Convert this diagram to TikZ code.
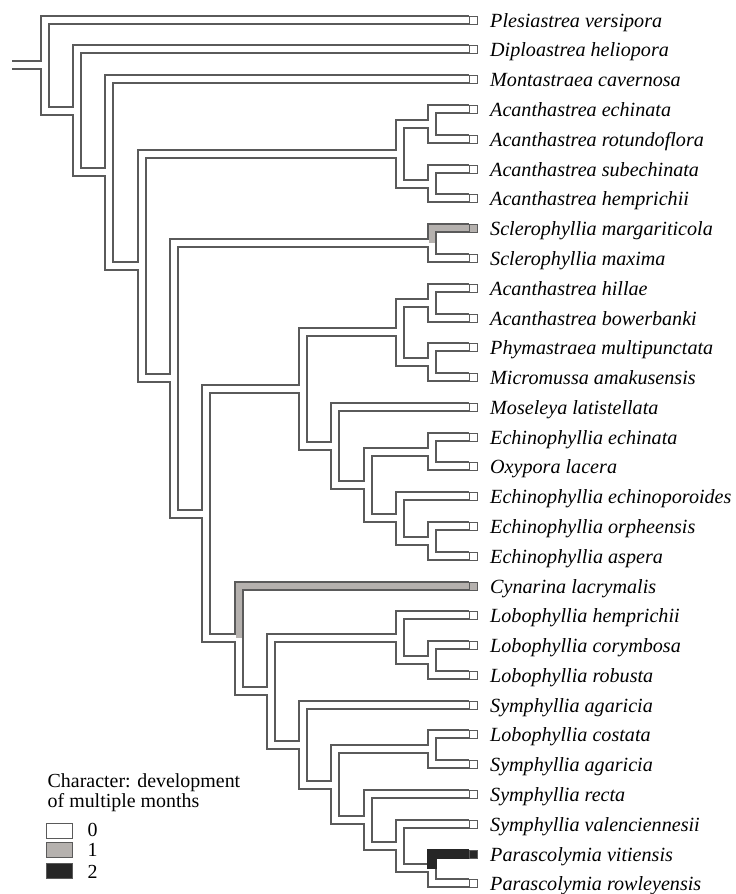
\documentclass[tikz,border=0pt]{standalone}
\usepackage{fontspec}
\setmainfont{Liberation Serif}
\definecolor{lineC}{HTML}{5A5A5A}
\definecolor{greyC}{HTML}{B5B1AE}
\definecolor{blackC}{HTML}{262626}
\begin{document}
\begin{tikzpicture}[x=1bp,y=-1bp,
  outl/.style={line width=10bp, draw=lineC, line cap=butt, line join=miter},
  fil/.style={line width=6bp, draw=#1, line cap=butt, line join=miter},
  tip/.style={draw=lineC, line width=1bp, fill=#1, minimum size=8bp, inner sep=0pt},
  lab/.style={anchor=base west, inner sep=0pt, font=\fontsize{20.2}{20.2}\selectfont\itshape},
  legtxt/.style={inner sep=0pt, font=\fontsize{20}{20}\selectfont},
  legbox/.style={draw=lineC, line width=1.3bp, fill=#1, minimum width=26.5bp, minimum height=15bp, inner sep=0pt, anchor=north west},
]
\useasboundingbox (0,0) rectangle (736,894);
\fill[white] (0,0) rectangle (736,894);

% leaf tips
\foreach \i/\y in {0/20,1/49,2/79,3/109,4/139,5/169,6/198,7/228,8/258,9/288,
  10/318,11/347,12/377,13/407,14/437,15/466,16/496,17/526,18/556,19/586,
  20/615,21/645,22/675,23/705,24/734,25/764,26/794,27/824,28/854,29/883}{
  \coordinate (L\i) at (469,\y);
}

% internal nodes
\coordinate (root) at (12,65);
\coordinate (n1) at (45,65);
\coordinate (n2) at (77,111);
\coordinate (n3) at (109,172);
\coordinate (n4) at (142,266);
\coordinate (n5) at (400,154);
\coordinate (n5a) at (432,124);
\coordinate (n5b) at (432,184);
\coordinate (n6) at (174,378);
\coordinate (n7) at (432,243);
\coordinate (n9) at (206,514);
\coordinate (n10) at (303,389);
\coordinate (n13) at (400,332);
\coordinate (n13a) at (432,303);
\coordinate (n13b) at (432,362);
\coordinate (n12) at (335,446);
\coordinate (n14) at (368,485);
\coordinate (n14a) at (432,452);
\coordinate (n14b) at (400,518);
\coordinate (n14c) at (432,541);
\coordinate (n11) at (239,638);
\coordinate (n15) at (271,691);
\coordinate (n16) at (400,638);
\coordinate (n16a) at (432,660);
\coordinate (n17) at (303,745);
\coordinate (n18) at (335,785);
\coordinate (n18a) at (432,749);
\coordinate (n19) at (368,820);
\coordinate (n20) at (400,846);
\coordinate (n21) at (432,868);

\def\edges{n1/L0/white, n1/n2/white, n2/L1/white, n2/n3/white,
 n3/L2/white, n3/n4/white, n4/n5/white, n4/n6/white,
 n5/n5a/white, n5/n5b/white, n5a/L3/white, n5a/L4/white,
 n5b/L5/white, n5b/L6/white, n6/n7/white, n6/n9/white,
 n7/L7/greyC, n7/L8/white, n9/n10/white, n9/n11/white,
 n10/n13/white, n10/n12/white, n13/n13a/white, n13/n13b/white,
 n13a/L9/white, n13a/L10/white, n13b/L11/white, n13b/L12/white,
 n12/L13/white, n12/n14/white, n14/n14a/white, n14/n14b/white,
 n14a/L14/white, n14a/L15/white, n14b/L16/white, n14b/n14c/white,
 n14c/L17/white, n14c/L18/white, n11/L19/greyC, n11/n15/white,
 n15/n16/white, n15/n17/white, n16/L20/white, n16/n16a/white,
 n16a/L21/white, n16a/L22/white, n17/L23/white, n17/n18/white,
 n18/n18a/white, n18/n19/white, n18a/L24/white, n18a/L25/white,
 n19/L26/white, n19/n20/white, n20/L27/white, n20/n21/white,
 n21/L28/blackC, n21/L29/white}

% outlines
\draw[outl] (root) -- (n1);
\foreach \p/\c/\col in \edges { \draw[outl] (\p) |- (\c); }
% fills
\draw[fil=white] (root) -- (n1);
\foreach \p/\c/\col in \edges { \draw[fil=\col] (\p) |- (\c); }
% state-2 branch is solid
\draw[outl, draw=blackC] ([yshift=-1bp]n21) |- (L28);

% tips and labels
\foreach \i/\col/\nm in {
 0/white/Plesiastrea versipora,
 1/white/Diploastrea heliopora,
 2/white/Montastraea cavernosa,
 3/white/Acanthastrea echinata,
 4/white/Acanthastrea rotundoflora,
 5/white/Acanthastrea subechinata,
 6/white/Acanthastrea hemprichii,
 7/greyC/Sclerophyllia margariticola,
 8/white/Sclerophyllia maxima,
 9/white/Acanthastrea hillae,
 10/white/Acanthastrea bowerbanki,
 11/white/Phymastraea multipunctata,
 12/white/Micromussa amakusensis,
 13/white/Moseleya latistellata,
 14/white/Echinophyllia echinata,
 15/white/Oxypora lacera,
 16/white/Echinophyllia echinoporoides,
 17/white/Echinophyllia orpheensis,
 18/white/Echinophyllia aspera,
 19/greyC/Cynarina lacrymalis,
 20/white/Lobophyllia hemprichii,
 21/white/Lobophyllia corymbosa,
 22/white/Lobophyllia robusta,
 23/white/Symphyllia agaricia,
 24/white/Lobophyllia costata,
 25/white/Symphyllia agaricia,
 26/white/Symphyllia recta,
 27/white/Symphyllia valenciennesii,
 28/blackC/Parascolymia vitiensis,
 29/white/Parascolymia rowleyensis}{
  \node[tip=\col] (s\i) at ([xshift=4.5bp]L\i) {};
  \node[lab] (t\i) at ([xshift=21bp,yshift=-7.4bp]L\i) {\nm};
}

% legend
\node[legtxt, anchor=north west, align=left] (legtitle) at (47.5,773.4) {Character: development\\of multiple months};
\node[legbox=white] (lg0) at (45.5,823) {};
\node[legbox=greyC] (lg1) at (45.5,841.5) {};
\node[legbox=blackC] (lg2) at (45.5,862.5) {};
\node[legtxt, anchor=base west] (d0) at (87.5,836.3) {0};
\node[legtxt, anchor=base west] (d1) at (87.5,856.3) {1};
\node[legtxt, anchor=base west] (d2) at (87.5,878.3) {2};
\end{tikzpicture}
\end{document}
